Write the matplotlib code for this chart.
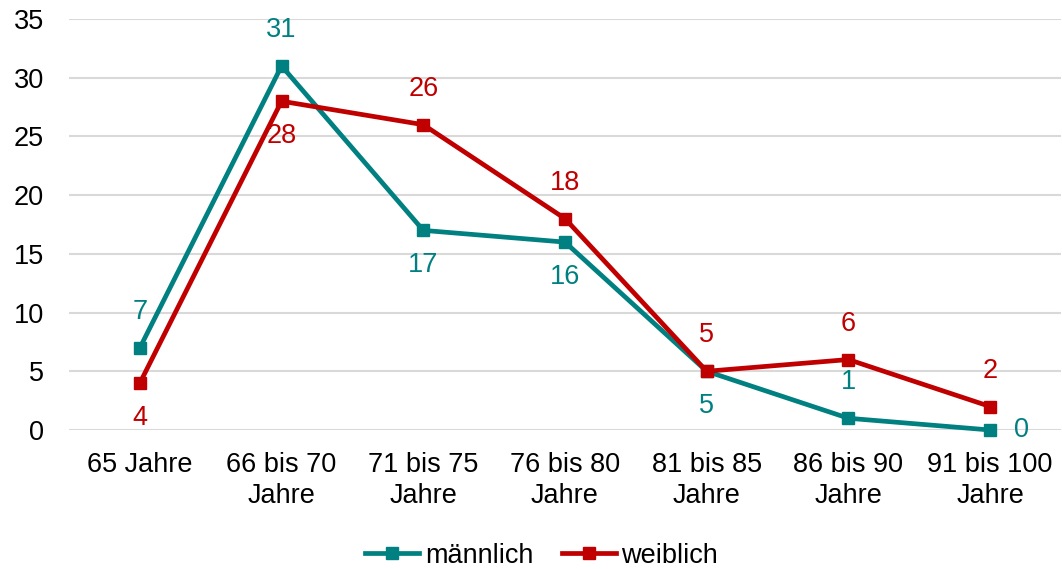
import numpy as np
import matplotlib.pyplot as plt

plt.rcParams['font.family'] = ['Liberation Sans', 'DejaVu Sans']

#%% Data
categories = ["65 Jahre", "66 bis 70\nJahre", "71 bis 75\nJahre", "76 bis 80\nJahre",
              "81 bis 85\nJahre", "86 bis 90\nJahre", "91 bis 100\nJahre"]
maennlich = [7, 31, 17, 16, 5, 1, 0]
weiblich = [4, 28, 26, 18, 5, 6, 2]

# label placement per point: 'a' above, 'b' below, 'r' right
pos_m = ['a', 'a', 'b', 'b', 'b', 'a', 'r']
pos_w = ['b', 'b', 'a', 'a', 'a', 'a', 'a']

teal = "#008080"
red = "#C00000"
fs = 19.5

#%% Plot
fig = plt.figure(figsize=(10.62, 5.69), dpi=100)
ax = fig.add_axes([0.065, 0.2443, 0.934, 0.7223])

x = np.arange(len(categories))
ax.plot(x, maennlich, color=teal, lw=3.4, marker='s', ms=9, label="männlich",
        zorder=3, clip_on=False)
ax.plot(x, weiblich, color=red, lw=3.4, marker='s', ms=9, label="weiblich",
        zorder=4, clip_on=False)

offsets = {'a': (0, 36), 'b': (0, -35), 'r': (31, 0)}
for vals, poss, col in [(maennlich, pos_m, teal), (weiblich, pos_w, red)]:
    for xi, v, p in zip(x, vals, poss):
        ax.annotate(str(v), (xi, v), xytext=offsets[p], textcoords='offset pixels',
                    ha='center', va='center', color=col, fontsize=fs)

ax.set_xlim(-0.5, len(categories) - 0.5)
ax.set_ylim(0, 35)
ax.set_yticks(np.arange(0, 36, 5))
ax.set_xticks(x)
ax.set_xticklabels(categories, fontsize=fs, linespacing=1.25)
ax.tick_params(axis='y', labelsize=fs, length=0, pad=18)
ax.tick_params(axis='x', length=0, pad=16)
for s in ax.spines.values():
    s.set_visible(False)
ax.grid(axis='y', color='#d9d9d9', lw=1.5)
ax.set_axisbelow(True)

fig.legend(loc='lower center', bbox_to_anchor=(0.51, -0.042), ncol=2, frameon=False,
           fontsize=fs, handlelength=2.0, handletextpad=0.2, columnspacing=1.05)

fig.savefig("out.png", dpi=100)
